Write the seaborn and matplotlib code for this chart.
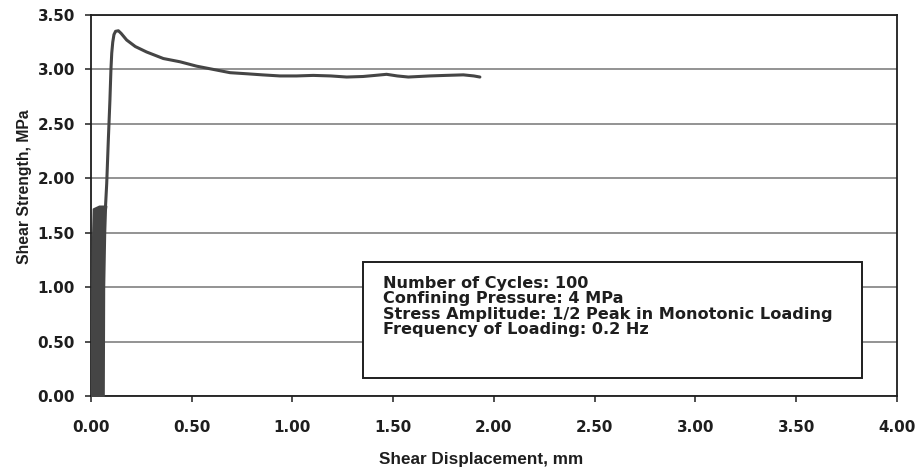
import matplotlib
matplotlib.use("Agg")
import matplotlib.pyplot as plt
from matplotlib.patches import Rectangle
import seaborn as sns
import pandas as pd

# Post-cyclic monotonic shear curve (displacement mm, strength MPa)
disp_mm = [0.072, 0.078, 0.086, 0.094, 0.099, 0.103, 0.108, 0.114, 0.122,
           0.136, 0.150, 0.177, 0.220, 0.276, 0.359, 0.442, 0.524, 0.607,
           0.690, 0.773, 0.850, 0.938, 1.020, 1.103, 1.190, 1.269, 1.350,
           1.410, 1.467, 1.520, 1.575, 1.680, 1.760, 1.848, 1.900, 1.930]
strength_mpa = [1.74, 1.95, 2.35, 2.72, 3.00, 3.15, 3.25, 3.32, 3.35,
                3.355, 3.33, 3.27, 3.21, 3.16, 3.10, 3.07, 3.03, 3.00,
                2.97, 2.96, 2.95, 2.94, 2.94, 2.945, 2.94, 2.93, 2.935,
                2.945, 2.955, 2.94, 2.93, 2.94, 2.945, 2.95, 2.94, 2.93]

# Envelope of the 100 loading cycles (dense band near the origin)
band_strength = [0.00, 0.50, 1.00, 1.50, 1.72, 1.745]
band_left_mm = [0.000, 0.002, 0.004, 0.008, 0.011, 0.040]
band_right_mm = [0.061, 0.062, 0.063, 0.068, 0.072, 0.074]

x_ticks = [0.0, 0.5, 1.0, 1.5, 2.0, 2.5, 3.0, 3.5, 4.0]
y_ticks = [0.0, 0.5, 1.0, 1.5, 2.0, 2.5, 3.0, 3.5]

info_lines = ["Number of Cycles: 100",
              "Confining Pressure: 4 MPa",
              "Stress Amplitude: 1/2 Peak in Monotonic Loading",
              "Frequency of Loading: 0.2 Hz"]

sns.set_style("ticks")
plt.rcParams["font.family"] = ["Liberation Sans", "DejaVu Sans"]

line_color = "#454545"
text_color = "#1e1e1e"
wide_font = ["DejaVu Sans"]

fig = plt.figure(figsize=(9.2, 4.71), dpi=100)
ax = fig.add_axes([0.0989, 0.1592, 0.8761, 0.809])

curve = pd.DataFrame({"disp": disp_mm, "strength": strength_mpa})
sns.lineplot(data=curve, x="disp", y="strength", sort=False, ax=ax,
             color=line_color, linewidth=2.2, zorder=4)

ax.fill_betweenx(band_strength, band_left_mm, band_right_mm,
                 color=line_color, linewidth=1.5, edgecolor=line_color,
                 zorder=4)

ax.set_xlim(0, 4.0)
ax.set_ylim(0, 3.5)
ax.set_xticks(x_ticks)
ax.set_yticks(y_ticks)
ax.set_xticklabels([f"{v:.2f}" for v in x_ticks])
ax.set_yticklabels([f"{v:.2f}" for v in y_ticks])

ax.yaxis.grid(True, color="#8a8a8a", linewidth=1.3, zorder=1)
ax.set_axisbelow(True)

for side in ["left", "right", "top", "bottom"]:
    ax.spines[side].set_visible(True)
    ax.spines[side].set_color(text_color)
    ax.spines[side].set_linewidth(1.3)

ax.tick_params(axis="both", direction="out", length=4.5, width=1.1,
               color=text_color, labelcolor=text_color, labelsize=10.9)
ax.tick_params(axis="x", pad=13)
ax.tick_params(axis="y", pad=7)
for lbl in ax.get_xticklabels() + ax.get_yticklabels():
    lbl.set_fontweight("bold")
    lbl.set_family(wide_font)

ax.set_xlabel("Shear Displacement, mm", fontsize=12.3, fontweight="bold",
              color=text_color, labelpad=12, x=0.484)
ax.set_ylabel("Shear Strength, MPa", fontsize=11.3, fontweight="bold",
              color=text_color, labelpad=4, y=0.55)

# Test-condition box
ax.add_patch(Rectangle((0.3375, 0.0472), 0.6191, 0.3045,
                       transform=ax.transAxes, facecolor="white",
                       edgecolor=text_color, linewidth=1.4, zorder=6))
ax.text(0.3623, 0.316, "\n".join(info_lines), transform=ax.transAxes,
        fontsize=11.65, fontweight="bold", family=wide_font,
        color=text_color, va="top", ha="left", linespacing=1.04, zorder=7)

fig.savefig("out.png", dpi=100)
